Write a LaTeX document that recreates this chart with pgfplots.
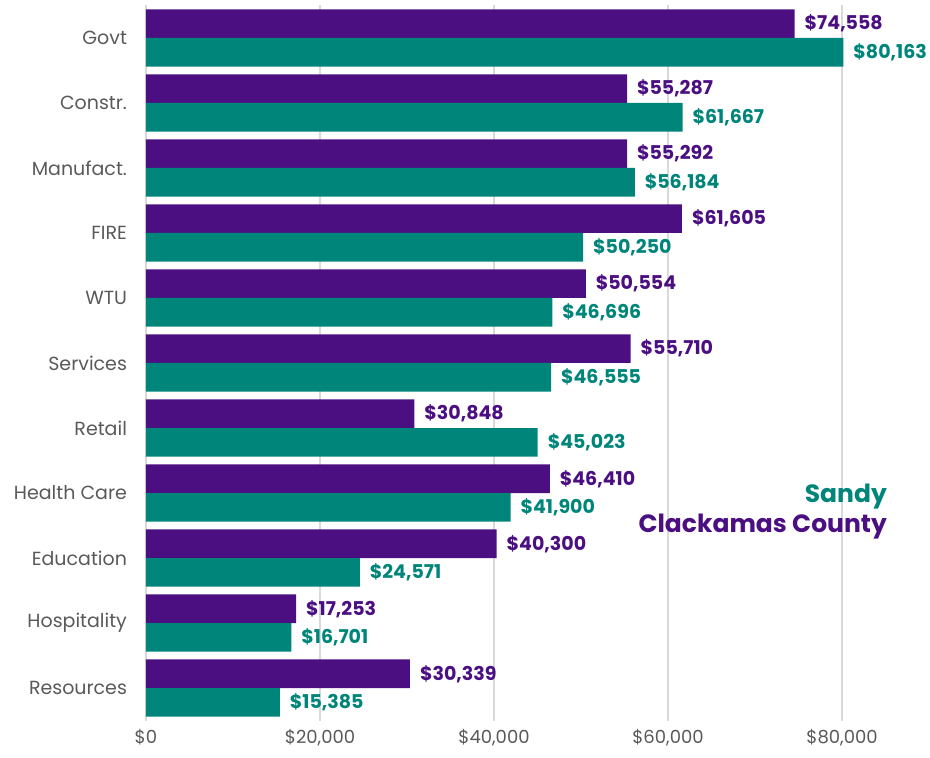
\documentclass[border=0pt]{standalone}
\usepackage{pgfplots}
\pgfplotsset{compat=1.18}
\usepackage{fontspec}
\setmainfont{Poppins}
\definecolor{cpurple}{HTML}{4B0F82}
\definecolor{cteal}{HTML}{00857A}
\definecolor{lblgray}{HTML}{595959}
\definecolor{gridgray}{HTML}{D9D9D9}
\begin{document}
\begin{tikzpicture}
\useasboundingbox (-73pt,-18.75pt) rectangle (392pt,360.25pt);
\begin{axis}[
  at={(0,0)}, anchor=south west,
  scale only axis, width=391.5pt, height=357.5pt,
  xbar, xmin=0, xmax=90000, ymin=-0.5, ymax=10.5, y dir=reverse,
  bar width=0.44,
  ytick={0,...,10},
  yticklabels={Govt,Constr.,Manufact.,FIRE,WTU,Services,Retail~,Health Care,Education~,Hospitality,Resources},
  xtick={0,20000,40000,60000,80000},
  xticklabels={{\$0},{\$20,000},{\$40,000},{\$60,000},{\$80,000}},
  axis line style={draw=none},
  major tick length=0,
  xmajorgrids, grid style={gridgray, line width=0.8pt},
  ticklabel style={font=\fontsize{9.5}{11}\selectfont, text=lblgray},
  yticklabel style={xshift=-6pt},
  xticklabel style={inner sep=0pt, yshift=-4pt, font=\fontsize{9}{10}\selectfont},
  point meta=explicit symbolic,
  nodes near coords,
  nodes near coords style={anchor=west, xshift=1.5pt, font=\bfseries\fontsize{9.5}{11}\selectfont},
  clip=false,
]
\addplot[fill=cpurple, draw=none, bar shift=-0.22, nodes near coords style={text=cpurple}] coordinates {
  (74558,0) [\$74,558]
  (55287,1) [\$55,287]
  (55292,2) [\$55,292]
  (61605,3) [\$61,605]
  (50554,4) [\$50,554]
  (55710,5) [\$55,710]
  (30848,6) [\$30,848]
  (46410,7) [\$46,410]
  (40300,8) [\$40,300]
  (17253,9) [\$17,253]
  (30339,10) [\$30,339]
};
\addplot[fill=cteal, draw=none, bar shift=0.22, nodes near coords style={text=cteal}] coordinates {
  (80163,0) [\$80,163]
  (61667,1) [\$61,667]
  (56184,2) [\$56,184]
  (50250,3) [\$50,250]
  (46696,4) [\$46,696]
  (46555,5) [\$46,555]
  (45023,6) [\$45,023]
  (41900,7) [\$41,900]
  (24571,8) [\$24,571]
  (16701,9) [\$16,701]
  (15385,10) [\$15,385]
};
\node[anchor=east, inner sep=0pt, text=cteal, font=\bfseries\fontsize{12.5}{14}\selectfont] at (axis cs:85200,7.06) {Sandy};
\node[anchor=east, inner sep=0pt, text=cpurple, font=\bfseries\fontsize{12.5}{14}\selectfont] at (axis cs:85200,7.52) {Clackamas County};
\end{axis}
\end{tikzpicture}
\end{document}
